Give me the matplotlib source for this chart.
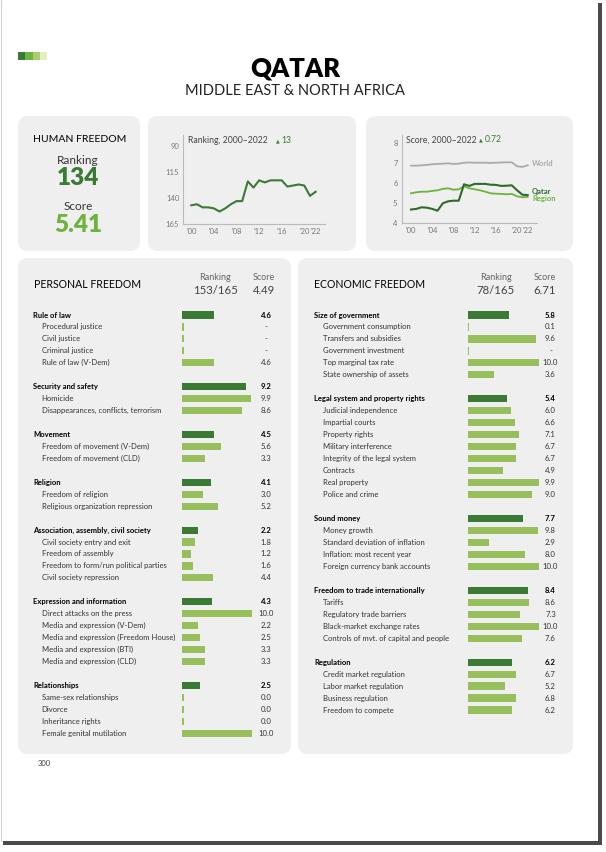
import matplotlib.pyplot as plt
import matplotlib.transforms as mtransforms
from matplotlib.patches import FancyBboxPatch, Rectangle
import numpy as np

plt.rcParams['font.family'] = ['Lato', 'DejaVu Sans']

W, H = 606, 852
DARK = '#3b7a35'
LIGHT = '#97c05c'
MID = '#6db33f'
BOX = '#efefef'
TXT = '#333333'

# --- time series ---
years = np.arange(2000, 2023)
rank = [147, 146, 149, 149, 150, 153, 150, 146, 143, 143, 124, 130, 123,
        125, 123, 123, 123, 129, 128, 127, 128, 138, 134]
score_qatar = [4.69, 4.72, 4.80, 4.78, 4.72, 4.63, 5.00, 5.10, 5.13, 5.13, 5.95, 5.87,
               5.97, 5.97, 5.97, 5.93, 5.92, 5.87, 5.88, 5.90, 5.65, 5.43, 5.41]
score_region = [5.50, 5.55, 5.58, 5.58, 5.62, 5.65, 5.72, 5.75, 5.68, 5.70, 5.85, 5.75,
                5.70, 5.65, 5.58, 5.50, 5.48, 5.47, 5.45, 5.47, 5.35, 5.30, 5.32]
score_world = [6.88, 6.88, 6.90, 6.92, 6.95, 6.97, 6.98, 7.00, 6.97, 6.98, 7.03, 7.04,
               7.03, 7.03, 7.03, 7.02, 7.03, 7.04, 7.05, 7.05, 6.85, 6.82, 6.90]
year_ticks = [2000, 2004, 2008, 2012, 2016, 2020, 2022]
year_labels = ["'00", "'04", "'08", "'12", "'16", "'20", "'22"]

# --- personal freedom ---
pf_groups = ['Rule of law', 'Security and safety', 'Movement', 'Religion',
             'Association, assembly, civil society', 'Expression and information',
             'Relationships']
pf_group_scores = [4.6, 9.2, 4.5, 4.1, 2.2, 4.3, 2.5]
pf_items = [
    ['Procedural justice', 'Civil justice', 'Criminal justice', 'Rule of law (V-Dem)'],
    ['Homicide', 'Disappearances, conflicts, terrorism'],
    ['Freedom of movement (V-Dem)', 'Freedom of movement (CLD)'],
    ['Freedom of religion', 'Religious organization repression'],
    ['Civil society entry and exit', 'Freedom of assembly',
     'Freedom to form/run political parties', 'Civil society repression'],
    ['Direct attacks on the press', 'Media and expression (V-Dem)',
     'Media and expression (Freedom House)', 'Media and expression (BTI)',
     'Media and expression (CLD)'],
    ['Same-sex relationships', 'Divorce', 'Inheritance rights', 'Female genital mutilation'],
]
pf_item_scores = [
    [np.nan, np.nan, np.nan, 4.6],
    [9.9, 8.6],
    [5.6, 3.3],
    [3.0, 5.2],
    [1.8, 1.2, 1.6, 4.4],
    [10.0, 2.2, 2.5, 3.3, 3.3],
    [0.0, 0.0, 0.0, 10.0],
]

# --- economic freedom ---
ef_groups = ['Size of government', 'Legal system and property rights', 'Sound money',
             'Freedom to trade internationally', 'Regulation']
ef_group_scores = [5.8, 5.4, 7.7, 8.4, 6.2]
ef_items = [
    ['Government consumption', 'Transfers and subsidies', 'Government investment',
     'Top marginal tax rate', 'State ownership of assets'],
    ['Judicial independence', 'Impartial courts', 'Property rights', 'Military interference',
     'Integrity of the legal system', 'Contracts', 'Real property', 'Police and crime'],
    ['Money growth', 'Standard deviation of inflation', 'Inflation: most recent year',
     'Foreign currency bank accounts'],
    ['Tariffs', 'Regulatory trade barriers', 'Black-market exchange rates',
     'Controls of mvt. of capital and people'],
    ['Credit market regulation', 'Labor market regulation', 'Business regulation',
     'Freedom to compete'],
]
ef_item_scores = [
    [0.1, 9.6, np.nan, 10.0, 3.6],
    [6.0, 6.6, 7.1, 6.7, 6.7, 4.9, 9.9, 9.0],
    [9.8, 2.9, 8.0, 10.0],
    [8.6, 7.3, 10.0, 7.6],
    [6.7, 5.2, 6.8, 6.2],
]

fig = plt.figure(figsize=(W / 100, H / 100), dpi=100)
bg = fig.add_axes([0, 0, 1, 1])
bg.set_xlim(0, W)
bg.set_ylim(H, 0)
bg.axis('off')


def px_axes(x0, y0, x1, y1):
    a = fig.add_axes([x0 / W, 1 - y1 / H, (x1 - x0) / W, (y1 - y0) / H])
    a.set_facecolor('none')
    return a


def rbox(x0, y0, x1, y1, r=10):
    bg.add_patch(FancyBboxPatch((x0 + r, y0 + r), x1 - x0 - 2 * r, y1 - y0 - 2 * r,
                                boxstyle=f'round,pad={r}', fc=BOX, ec='none'))


# page edges / shadow
bg.add_patch(Rectangle((598, 3), 3.5, 842, fc='#4a4a4a', ec='none'))
bg.add_patch(Rectangle((3, 840.5), 598.5, 4, fc='#4a4a4a', ec='none'))
bg.add_patch(Rectangle((0, 0), 598, 841, fc='white', ec='none'))
bg.plot([0.5, 0.5], [0, 841], color='#c4c4c4', lw=0.6)

# header
for i, c in enumerate(['#3b7a35', '#6db33f', '#a8cc6e', '#e4efc0']):
    bg.add_patch(Rectangle((18 + i * 7.3, 52), 7.3, 7.5, fc=c, ec='none'))
bg.text(295, 68, 'QATAR', ha='center', va='center', fontsize=18.5, fontweight='heavy', color='black')
bg.text(295, 91, 'MIDDLE EAST & NORTH AFRICA', ha='center', va='center', fontsize=10.5,
        color='#222222')

# boxes
rbox(18, 116, 140, 251)
rbox(148, 116, 356, 251)
rbox(366, 116, 573, 251)
rbox(18, 258, 291, 754)
rbox(298, 258, 573, 754)

# human freedom summary
bg.text(79.5, 139.5, 'HUMAN FREEDOM', ha='center', va='center', fontsize=7.5, color='black')
bg.text(78, 160, 'Ranking', ha='center', va='center', fontsize=8.5, color=TXT)
bg.text(78, 178, '134', ha='center', va='center', fontsize=17.5, fontweight='heavy', color=DARK)
bg.text(78, 206.5, 'Score', ha='center', va='center', fontsize=8.5, color=TXT)
bg.text(78, 224.5, '5.41', ha='center', va='center', fontsize=17.5, fontweight='heavy', color=MID)


def style_line_axes(a):
    for s in ['top', 'right']:
        a.spines[s].set_visible(False)
    for s in ['left', 'bottom']:
        a.spines[s].set_color('#bbbbbb')
        a.spines[s].set_linewidth(0.8)
    a.tick_params(length=0, labelsize=5.5, labelcolor='#777777', pad=3)
    a.set_xticks(year_ticks)
    a.set_xticklabels(year_labels)


# ranking chart
axr = px_axes(183.3, 135, 325, 224)
axr.plot(years, rank, color=DARK, lw=1.5)
axr.set_xlim(1998.58, 2023.66)
axr.set_ylim(165, 79.4)
axr.set_yticks([90, 115, 140, 165])
style_line_axes(axr)
bg.text(188.5, 140.5, 'Ranking, 2000\u20132022', ha='left', va='center', fontsize=6.2, color='#444444')
bg.text(275.5, 140.5, '\u25b2', ha='left', va='center', fontsize=3.5, color=DARK)
bg.text(281, 140.5, '13', ha='left', va='center', fontsize=6.2, color=DARK)

# score chart
axs = px_axes(401.7, 135, 536.7, 223.3)
axs.plot(years, score_world, color='#aaaaaa', lw=1.3)
axs.plot(years, score_region, color=MID, lw=1.3)
axs.plot(years, score_qatar, color='#2f6b2a', lw=1.5)
axs.set_xlim(1998.25, 2023.7)
axs.set_ylim(4, 8.415)
axs.set_yticks([4, 5, 6, 7, 8])
style_line_axes(axs)
bg.text(406.5, 140, 'Score, 2000\u20132022', ha='left', va='center', fontsize=6.2, color='#444444')
bg.text(479, 140, '\u25b2', ha='left', va='center', fontsize=3.5, color=DARK)
bg.text(484.5, 140, '0.72', ha='left', va='center', fontsize=6.2, color=DARK)
bg.text(532, 163.5, 'World', ha='left', va='center', fontsize=5.5, color='#aaaaaa', fontweight='bold')
bg.text(532, 191.8, 'Qatar', ha='left', va='center', fontsize=5.5, color='#2f6b2a', fontweight='bold')
bg.text(532, 198.8, 'Region', ha='left', va='center', fontsize=5.5, color=MID, fontweight='bold')


def bar_panel(groups, gscores, items, iscores, xb0, xb1, x_head, x_item, x_val, y_first, step):
    labels, values, heads, pos = [], [], [], []
    p = 0
    for g, gs, its, iss in zip(groups, gscores, items, iscores):
        labels.append(g); values.append(gs); heads.append(True); pos.append(p)
        for k, (it, v) in enumerate(zip(its, iss)):
            labels.append(it); values.append(v); heads.append(False); pos.append(p + k + 1)
        p += len(its) + 2
    n_rows = pos[-1] + 1
    a = px_axes(xb0, y_first - step / 2, xb1, y_first + (n_rows - 0.5) * step)
    a.set_xlim(0, 10)
    a.set_ylim(n_rows - 0.5, -0.5)
    a.axis('off')
    vals = np.array(values, dtype=float)
    widths = np.maximum(np.nan_to_num(vals), 0.2)
    colors = [DARK if h else LIGHT for h in heads]
    a.barh(pos, widths, height=0.6, color=colors)
    tr = mtransforms.blended_transform_factory(bg.transData, a.transData)
    for lab, v, h, y in zip(labels, vals, heads, pos):
        a.text(x_head if h else x_item, y, lab, transform=tr, ha='left', va='center',
               fontsize=5.5, fontweight='bold' if h else 'normal',
               color='black' if h else TXT)
        s = '-' if np.isnan(v) else f'{v:.1f}'
        a.text(x_val, y, s, transform=tr, ha='center', va='center', fontsize=5.6,
               fontweight='bold' if h else 'normal', color='black' if h else TXT)


# personal freedom
bg.text(33.5, 284, 'PERSONAL FREEDOM', ha='left', va='center', fontsize=7.6, color='black')
bg.text(215, 277.3, 'Ranking', ha='center', va='center', fontsize=6.5, color='#666666')
bg.text(215, 290.7, '153/165', ha='center', va='center', fontsize=8.2, color='#444444')
bg.text(264, 277.3, 'Score', ha='center', va='center', fontsize=6.5, color='#666666')
bg.text(264, 290.7, '4.49', ha='center', va='center', fontsize=8.2, color='#444444')
bar_panel(pf_groups, pf_group_scores, pf_items, pf_item_scores,
          182.3, 251.7, 33.3, 41.7, 266.3, 315, 11.95)

# economic freedom
bg.text(314, 285, 'ECONOMIC FREEDOM', ha='left', va='center', fontsize=7.6, color='black')
bg.text(495.7, 277.3, 'Ranking', ha='center', va='center', fontsize=6.5, color='#666666')
bg.text(495.7, 290.7, '78/165', ha='center', va='center', fontsize=8.2, color='#444444')
bg.text(545, 277.3, 'Score', ha='center', va='center', fontsize=6.5, color='#666666')
bg.text(545, 290.7, '6.71', ha='center', va='center', fontsize=8.2, color='#444444')
bar_panel(ef_groups, ef_group_scores, ef_items, ef_item_scores,
          468, 539.3, 314, 322.7, 550.5, 315, 11.97)

bg.text(37.5, 764, '300', ha='left', va='center', fontsize=5.5, color='#444444')

fig.savefig('out.png', dpi=100)
